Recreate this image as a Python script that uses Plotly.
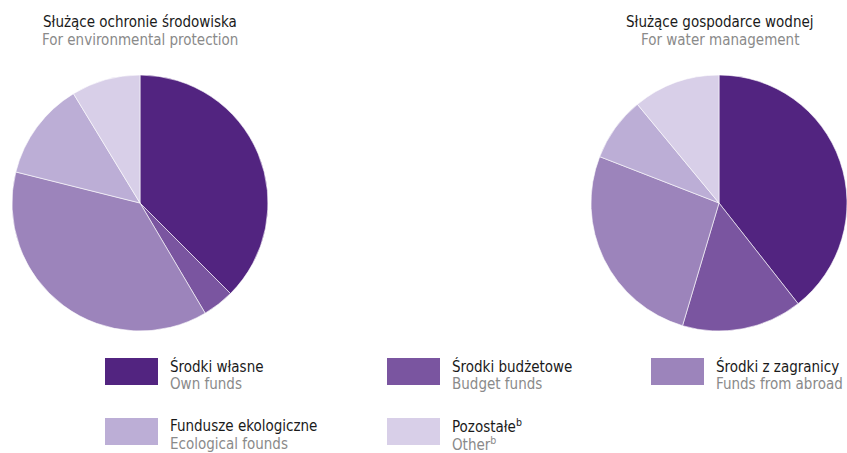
import plotly.graph_objects as go

categories_pl = ["Środki własne", "Środki budżetowe", "Środki z zagranicy",
                 "Fundusze ekologiczne", "Pozostałe<sup>b</sup>"]
categories_en = ["Own funds", "Budget funds", "Funds from abroad",
                 "Ecological founds", "Other<sup>b</sup>"]
env_values = [37.5, 4.0, 37.4, 12.4, 8.7]
water_values = [39.4, 15.2, 26.3, 8.1, 11.0]
colors = ["#522480", "#7a55a0", "#9c84bb", "#bcaed6", "#d8cfe8"]

titles_pl = ["Służące ochronie środowiska", "Służące gospodarce wodnej"]
titles_en = ["For environmental protection", "For water management"]

W, H = 847, 453
FONT = "DejaVu Sans Condensed, Liberation Sans Narrow, Roboto, sans-serif"
FS = 15

def px(x):
    return x / W

def py(y):
    return 1 - y / H

fig = go.Figure()
pie_boxes = [(12, 268), (591, 847)]
top, bottom = 75, 331
for vals, (x0, x1) in zip([env_values, water_values], pie_boxes):
    fig.add_trace(go.Pie(
        labels=[c.replace("<sup>b</sup>", "") for c in categories_en],
        values=vals, sort=False, direction="clockwise", rotation=0,
        marker=dict(colors=colors, line=dict(color="white", width=0.6)),
        textinfo="none", hoverinfo="label+percent", showlegend=False,
        domain=dict(x=[px(x0), px(x1)], y=[py(bottom), py(top)]),
    ))

annotations = []
title_centers = [140, 720]
for cx, tpl, ten in zip(title_centers, titles_pl, titles_en):
    annotations.append(dict(x=px(cx), y=py(22), xref="paper", yref="paper",
                            text=tpl, showarrow=False, xanchor="center", yanchor="middle",
                            font=dict(family=FONT, size=FS, color="#1a1a1a")))
    annotations.append(dict(x=px(cx), y=py(40), xref="paper", yref="paper",
                            text=ten, showarrow=False, xanchor="center", yanchor="middle",
                            font=dict(family=FONT, size=FS, color="#8a8a8a")))

shapes = []
legend_pos = [(105, 358), (387, 358), (651, 358), (105, 418), (387, 418)]
for (lx, ly), col, tpl, ten in zip(legend_pos, colors, categories_pl, categories_en):
    shapes.append(dict(type="rect", xref="paper", yref="paper",
                       x0=px(lx), x1=px(lx + 53), y0=py(ly + 27), y1=py(ly),
                       fillcolor=col, line=dict(width=0)))
    annotations.append(dict(x=px(lx + 63), y=py(ly + 8), xref="paper", yref="paper",
                            text=tpl, showarrow=False, xanchor="left", yanchor="middle",
                            font=dict(family=FONT, size=FS, color="#1a1a1a")))
    annotations.append(dict(x=px(lx + 63), y=py(ly + 26), xref="paper", yref="paper",
                            text=ten, showarrow=False, xanchor="left", yanchor="middle",
                            font=dict(family=FONT, size=FS, color="#8a8a8a")))

fig.update_layout(
    width=W, height=H,
    margin=dict(l=0, r=0, t=0, b=0),
    paper_bgcolor="white", plot_bgcolor="white",
    annotations=annotations, shapes=shapes,
    showlegend=False,
)

fig.write_html("out.html", config={"displayModeBar": False},
               post_script="document.body.style.margin='0';")
